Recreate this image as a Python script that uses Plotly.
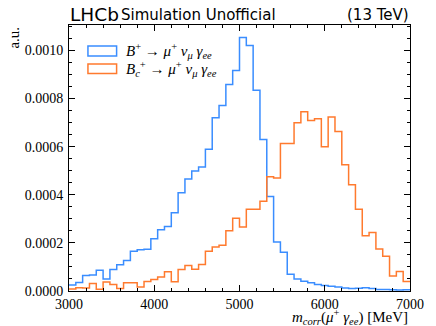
import numpy as np
import plotly.graph_objects as go

# ---- data -------------------------------------------------------------
bin_lo, bin_hi, n_bins = 3000, 7000, 50
edges = np.linspace(bin_lo, bin_hi, n_bins + 1)

bu_values = [0.000025, 0.000035, 0.000064, 0.000066, 0.000086, 0.000050, 0.000089, 0.000109, 0.000127, 0.000165,
             0.000172, 0.000174, 0.000217, 0.000255, 0.000268, 0.000325, 0.000408, 0.000466, 0.000499, 0.000515,
             0.000589, 0.000720, 0.000771, 0.000858, 0.000917, 0.001054, 0.001021, 0.000835, 0.000630, 0.000393,
             0.000204, 0.000161, 0.000070, 0.000050, 0.000041, 0.000034, 0.000027, 0.000023, 0.000020, 0.000017,
             0.000012, 0.000010, 0.000011, 0.000014, 0.000010, 0.000006, 0.000006, 0.000005, 0.000004, 0.000005]

bc_values = [0.000008, 0.000014, 0.000012, 0.000031, 0.000007, 0.000037, 0.000027, 0.000010, 0.000034, 0.000034,
             0.000017, 0.000040, 0.000048, 0.000058, 0.000080, 0.000038, 0.000089, 0.000106, 0.000090, 0.000110,
             0.000165, 0.000183, 0.000190, 0.000250, 0.000302, 0.000266, 0.000340, 0.000340, 0.000373, 0.000475,
             0.000470, 0.000613, 0.000613, 0.000699, 0.000745, 0.000709, 0.000716, 0.000600, 0.000723, 0.000663,
             0.000525, 0.000442, 0.000340, 0.000230, 0.000243, 0.000175, 0.000144, 0.000062, 0.000081, 0.000040]

series_names = ["<i>B</i><sup>+</sup> → <i>μ</i><sup>+</sup> <i>ν<sub>μ</sub></i> <i>γ<sub>ee</sub></i>",
                "<i>B<sub>c</sub></i><sup>+</sup> → <i>μ</i><sup>+</sup> <i>ν<sub>μ</sub></i> <i>γ<sub>ee</sub></i>"]
colors = ["#3a8dff", "#ff7a2e"]

x_ticks = [3000, 4000, 5000, 6000, 7000]
y_ticks = [0.0, 0.0002, 0.0004, 0.0006, 0.0008, 0.0010]

# ---- figure -----------------------------------------------------------
fig = go.Figure()
for vals, col, name in zip([bu_values, bc_values], colors, series_names):
    fig.add_trace(go.Scatter(
        x=list(edges), y=list(vals) + [vals[-1]],
        mode="lines", line=dict(color=col, width=1.5, shape="hv"),
        name=name, showlegend=False, hoverinfo="skip"))

serif = "Liberation Serif"
sans = "DejaVu Sans"

axis_common = dict(showline=True, linecolor="black", linewidth=1, mirror="allticks",
                   ticks="inside", ticklen=6, tickwidth=1, tickcolor="black",
                   showgrid=False, zeroline=False,
                   tickfont=dict(family=serif, size=14, color="black"))

fig.update_xaxes(range=[bin_lo, bin_hi], tickvals=x_ticks, ticktext=[str(t) for t in x_ticks],
                 minor=dict(ticks="inside", ticklen=3, tickcolor="black", dtick=200, showgrid=False),
                 **axis_common)
fig.update_yaxes(range=[0, 0.0011058], tickvals=y_ticks, ticktext=[f"{t:.4f}" for t in y_ticks],
                 minor=dict(ticks="inside", ticklen=3, tickcolor="black", dtick=0.00005, showgrid=False),
                 ticklabelstandoff=2, **axis_common)

# legend drawn manually (outlined boxes like a step-histogram legend)
plot_h = 291.5 - 25.0
def py(p):
    return (291.5 - p) / plot_h
def px(p):
    return (p - 69.0) / 351.0

legend_rows = [(46, 56, 51.5), (64, 73.5, 69.5)]
for (top, bot, mid), col, name in zip(legend_rows, colors, series_names):
    fig.add_shape(type="rect", xref="paper", yref="paper",
                  x0=px(88.5), x1=px(118), y0=py(bot), y1=py(top),
                  line=dict(color=col, width=1.5), fillcolor="rgba(0,0,0,0)")
    fig.add_annotation(xref="paper", yref="paper", x=px(126), y=py(mid),
                       xanchor="left", yanchor="middle", showarrow=False,
                       text=name, font=dict(family=serif, size=15, color="black"))

# header
fig.add_annotation(xref="paper", yref="paper", x=0.0, y=1.0, xanchor="left", yanchor="bottom",
                   showarrow=False, text="LHCb", font=dict(family=sans, size=18.5, color="black"),
                   borderpad=0, xshift=0, yshift=-1)
fig.add_annotation(xref="paper", yref="paper", x=px(122), y=1.0, xanchor="left", yanchor="bottom",
                   showarrow=False, text="Simulation Unofficial", font=dict(family=sans, size=15, color="black"),
                   borderpad=0, yshift=0)
fig.add_annotation(xref="paper", yref="paper", x=1.0, y=1.0, xanchor="right", yanchor="bottom",
                   showarrow=False, text="(13 TeV)", font=dict(family=sans, size=15, color="black"),
                   borderpad=0, yshift=0)

# axis titles
fig.add_annotation(xref="paper", yref="paper", x=1.0, y=0, xanchor="right", yanchor="top",
                   showarrow=False, yshift=-14,
                   text="<i>m<sub>corr</sub></i>(<i>μ</i><sup>+</sup> <i>γ<sub>ee</sub></i>) [MeV]",
                   font=dict(family=serif, size=15, color="black"))
fig.add_annotation(xref="paper", yref="paper", x=px(12), y=1.0, xanchor="center", yanchor="top",
                   showarrow=False, textangle=-90, text="a.u.",
                   font=dict(family=serif, size=15, color="black"))

fig.update_layout(width=436, height=326, margin=dict(l=69, r=16, t=25, b=34.5),
                  paper_bgcolor="white", plot_bgcolor="white", showlegend=False)

fig.write_html("out.html", config={"displayModeBar": False},
               post_script="document.body.style.margin='0px';document.body.style.overflow='hidden';")
